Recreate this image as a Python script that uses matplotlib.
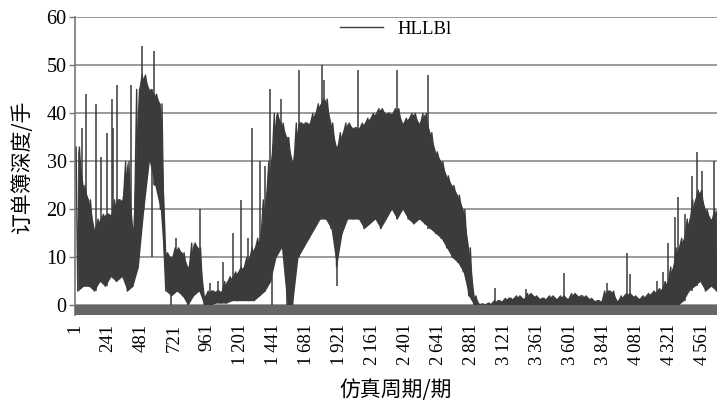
import numpy as np
import matplotlib.pyplot as plt

# order book depth, read per 40-period block: lower and upper edge of the dense band
step = 40
lo = [3, 4, 4, 3, 5, 4, 6, 5, 6, 3,
      4, 8, 20, 30, 25, 20, 3, 2, 3, 2,
      0, 2, 3, 0, 0, 0.5, 0.5, 0.5, 1, 1,
      1, 1, 1, 2, 3, 5, 10, 12, 0, 0,
      10, 12, 14, 16, 18, 18, 16, 8, 15, 18,
      18, 18, 16, 17, 18, 16, 18, 20, 18, 20,
      18, 17, 18, 17, 16, 15, 14, 12, 10, 9,
      7, 2, 0, 0, 0, 0, 0, 0, 0, 0,
      0, 0, 0, 0, 0, 0, 0, 0, 0, 0,
      0, 0, 0, 0, 0, 0, 0, 0, 0, 0,
      0, 0, 0, 0, 0, 0, 0, 0, 0, 0,
      1, 3, 4, 5, 3, 4, 3]
hi = [33, 25, 22, 16, 18, 19, 19, 22, 22, 30,
      16, 45, 48, 45, 44, 42, 11, 10, 12, 11,
      8, 13, 12, 2, 3, 3, 3, 5, 6, 7,
      8, 10, 12, 14, 22, 30, 40, 38, 35, 30,
      38, 38, 38, 40, 42, 43, 38, 33, 36, 38,
      37, 37, 38, 39, 40, 41, 40, 40, 41, 38,
      39, 40, 38, 40, 36, 32, 30, 27, 25, 23,
      20, 12, 2, 0.3, 0.3, 0.5, 1, 1, 1.5, 1.5,
      2, 1.5, 2.5, 2, 1.5, 1.5, 2, 1.5, 2, 1.5,
      2.5, 2, 2, 1.5, 1, 1, 3, 3, 1, 2,
      2.5, 2, 1.5, 2, 2.5, 3, 3.5, 5, 8, 12,
      14, 18, 22, 24, 20, 18, 20]

# single-period peaks above the band
peak_t = [52, 81, 153, 190, 233, 270, 277, 306, 408, 487, 575, 734, 909,
          981, 1039, 1075, 1148, 1206, 1257, 1286, 1344, 1380, 1417, 1497,
          1627, 1794, 1809, 2056, 2339, 2564, 3050, 3275, 3551, 3864, 4008,
          4030, 4226, 4270, 4306, 4357, 4379, 4430, 4480, 4517, 4553, 4640]
peak_v = [37, 44, 42, 31, 36, 43, 37, 46, 46, 54, 53, 14, 20,
          4.6, 5, 9, 15, 22, 14, 37, 30, 29, 45, 43,
          49, 50, 47, 49, 49, 48, 3.6, 3.5, 6.8, 4.7, 11,
          6.5, 5, 7, 13, 18.5, 22.6, 19, 27, 32, 28, 30]

# single-period drops below the band
dip_t = [560, 700, 1430, 1540, 1903]
dip_v = [10, 0, 0, 4, 4]

xticks = list(range(1, 4562, 240))
xlabels = [f"{t // 1000}\u2009{t % 1000:03d}" if t >= 1000 else str(t) for t in xticks]

num_font = ['Liberation Serif', 'DejaVu Serif']
cjk_font = ['Noto Sans CJK SC', 'DejaVu Sans']
dark = '#3b3b3b'

fig = plt.figure(figsize=(7.17, 4.05), dpi=100)
ax = fig.add_axes([0.1046, 0.222, 0.8954, 0.735])

n = len(lo)
starts = np.arange(n) * step + 1
centers = starts + step / 2

# band body between the block edges
ax.fill_between(centers, lo, hi, color=dark, lw=0, zorder=3)

# the series itself swings between the two edges inside each block
zx = np.ravel(np.column_stack([starts + 8, starts + 20, starts + 32]))
zy = np.ravel(np.column_stack([hi, lo, hi]))
ax.plot(zx, zy, color=dark, lw=1.0, zorder=3, label='HLLBl')

bin_of = lambda t: min((t - 1) // step, n - 1)
ax.vlines(peak_t, [lo[bin_of(t)] for t in peak_t], peak_v,
          color=dark, lw=1.1, zorder=3)
ax.vlines(dip_t, dip_v, [hi[bin_of(t)] for t in dip_t],
          color=dark, lw=1.1, zorder=3)

ax.axhspan(-2.0, 0, color='#666666', lw=0, zorder=4)

ax.set_xlim(1, 4665)
ax.set_ylim(-2.0, 60)
ax.set_yticks(range(0, 61, 10))
ax.set_xticks(xticks)
ax.set_xticklabels(xlabels, rotation=90, family=num_font, fontsize=13.5)
for lab in ax.get_yticklabels():
    lab.set_family(num_font)
    lab.set_fontsize(14.5)
ax.tick_params(axis='x', length=0, pad=6)
ax.tick_params(axis='y', length=4, width=1, color='#777777', pad=2)

ax.grid(axis='y', color='#8a8a8a', lw=1.2, zorder=1)
ax.set_axisbelow(True)
for s in ['top', 'right', 'bottom']:
    ax.spines[s].set_visible(False)
ax.spines['left'].set_color('#777777')
ax.spines['left'].set_linewidth(1.2)

ax.set_ylabel('订单簿深度/手', family=cjk_font, fontsize=15, labelpad=10)
ax.set_xlabel('仿真周期/期', family=cjk_font, fontsize=15, labelpad=10)

leg = ax.legend(loc='upper center', bbox_to_anchor=(0.5, 1.045), frameon=False,
                handlelength=2.3, prop={'family': num_font, 'size': 13.5})

fig.savefig('out.png', dpi=100)
